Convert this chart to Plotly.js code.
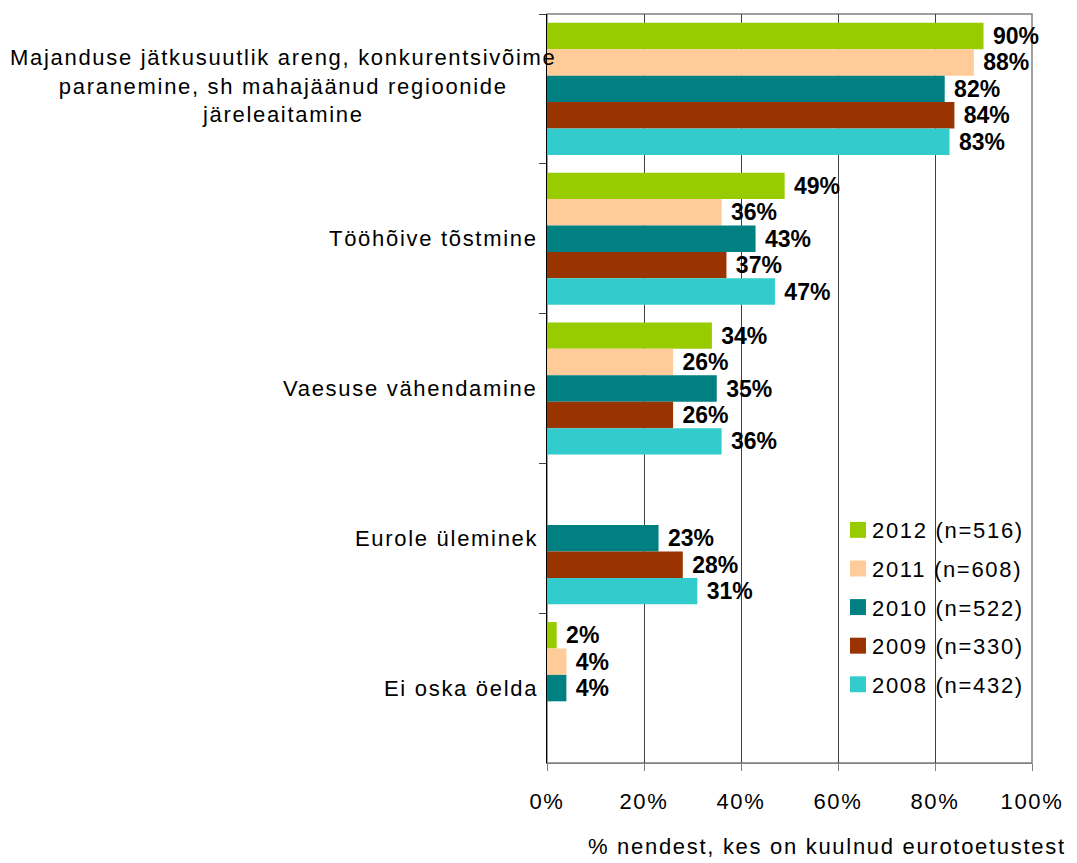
<!DOCTYPE html>
<html>
<head>
<meta charset="utf-8">
<script src="https://cdn.plot.ly/plotly-3.0.1.min.js"></script>
<style>
  html, body { margin: 0; padding: 0; background: #fff; }
  #chart { width: 1077px; height: 863px; }
  .xtick text, .legendtext, .annotation-text { letter-spacing: 1.7px; }
  .legend .legendpoints path { transform: translate(26px, 0px) scale(1.33); }
</style>
</head>
<body>
<div id="chart"></div>
<script>
// ---- data ----
const categories = [
  'Majanduse jätkusuutlik areng, konkurentsivõime paranemine, sh mahajäänud regioonide järeleaitamine',
  'Tööhõive tõstmine',
  'Vaesuse vähendamine',
  'Eurole üleminek',
  'Ei oska öelda'
];
const categoryLabels = [
  'Majanduse jätkusuutlik areng, konkurentsivõime<br>paranemine, sh mahajäänud regioonide<br>järeleaitamine',
  'Tööhõive tõstmine',
  'Vaesuse vähendamine',
  'Eurole üleminek',
  'Ei oska öelda'
];
const seriesNames = ['2012 (n=516)', '2011 (n=608)', '2010 (n=522)', '2009 (n=330)', '2008 (n=432)'];
const v2012 = [90, 49, 34, null, 2];
const v2011 = [88, 36, 26, null, 4];
const v2010 = [82, 43, 35, 23, 4];
const v2009 = [84, 37, 26, 28, null];
const v2008 = [83, 47, 36, 31, null];
const seriesValues = [v2012, v2011, v2010, v2009, v2008];
const seriesColors = ['#99CC00', '#FFCC99', '#008080', '#993300', '#33CCCC'];
const xTickVals = [0, 20, 40, 60, 80, 100];
const xTickText = ['0%', '20%', '40%', '60%', '80%', '100%'];
const xTitle = '% nendest, kes on kuulnud eurotoetustest';

const FONT = 'Liberation Sans, Arial, sans-serif';

const traces = seriesValues.map((vals, i) => ({
  type: 'bar',
  orientation: 'h',
  name: seriesNames[i],
  legendgroup: 'g' + i,
  y: categories,
  x: vals,
  marker: { color: seriesColors[i], line: { width: 0 } },
  texttemplate: '\u00a0%{x}%',
  textposition: 'outside',
  cliponaxis: false,
  constraintext: 'none',
  outsidetextfont: { family: FONT, size: 23, color: '#000', weight: 'bold' },
  hoverinfo: 'skip'
}));

const annotations = categories.map((c, i) => (i === 0 ? {
  xref: 'paper', yref: 'y', x: -0.544, y: c, yshift: 3,
  text: categoryLabels[i], showarrow: false, xanchor: 'center', yanchor: 'middle', align: 'center',
  font: { family: FONT, size: 22, color: '#000' }
} : {
  xref: 'paper', yref: 'y', x: -0.0144, y: c,
  text: categoryLabels[i], showarrow: false, xanchor: 'right', yanchor: 'middle', align: 'right',
  font: { family: FONT, size: 22, color: '#000' }
}));
annotations.push({
  xref: 'paper', yref: 'paper', x: 1.074, y: -0.111,
  text: xTitle, showarrow: false, xanchor: 'right', yanchor: 'middle',
  font: { family: FONT, size: 22, color: '#000' }
});

const layout = {
  width: 1077, height: 863,
  margin: { l: 547, r: 45, t: 14, b: 100, pad: 0 },
  paper_bgcolor: '#fff', plot_bgcolor: '#fff',
  font: { family: FONT, size: 22, color: '#000' },
  barmode: 'group',
  bargap: 0.118,
  bargroupgap: 0,
  showlegend: true,
  legend: {
    x: 0.5876, y: 0.339, xanchor: 'left', yanchor: 'top',
    bgcolor: 'rgba(0,0,0,0)', borderwidth: 0,
    traceorder: 'grouped', tracegroupgap: 7,
    font: { family: FONT, size: 22, color: '#000' }
  },
  xaxis: {
    range: [0, 100], tickmode: 'array', tickvals: xTickVals, ticktext: xTickText,
    showgrid: true, gridcolor: '#404040', gridwidth: 1,
    zeroline: false,
    showline: true, linecolor: '#808080', linewidth: 1,
    ticks: 'outside', ticklen: 7, tickcolor: '#808080',
    ticklabelstandoff: 12,
    tickfont: { family: FONT, size: 22, color: '#000' },
    fixedrange: true
  },
  yaxis: {
    type: 'category', categoryorder: 'array', categoryarray: categories,
    autorange: 'reversed',
    showticklabels: false,
    tickson: 'boundaries', ticks: 'outside', ticklen: 7, tickcolor: '#404040',
    showline: true, linecolor: '#000', linewidth: 1,
    showgrid: false, zeroline: false,
    fixedrange: true
  },
  shapes: [{
    type: 'rect', xref: 'paper', yref: 'paper', x0: 0, x1: 1, y0: 0, y1: 1,
    line: { color: '#808080', width: 1.5 }, fillcolor: 'rgba(0,0,0,0)', layer: 'below'
  }],
  annotations: annotations,
  hovermode: false
};

Plotly.newPlot('chart', traces, layout, { displayModeBar: false, staticPlot: true });
</script>
</body>
</html>
